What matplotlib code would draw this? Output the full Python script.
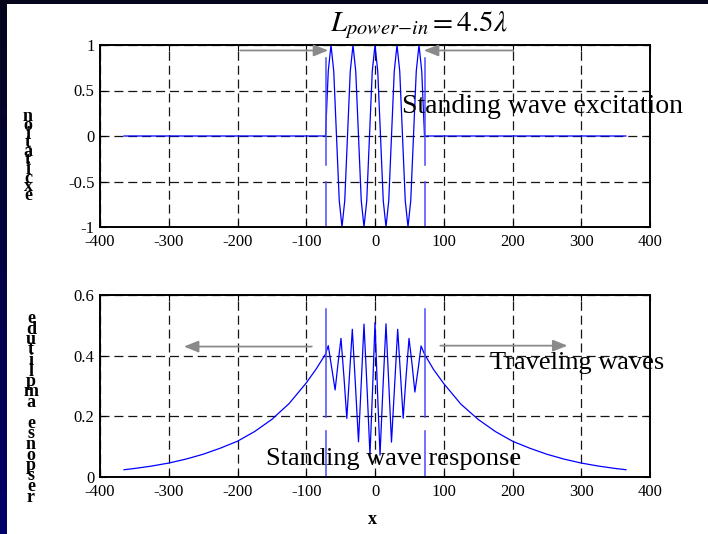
import numpy as np
import matplotlib

matplotlib.use("Agg")
import matplotlib.pyplot as plt
from matplotlib.patches import Rectangle

plt.rcParams["font.family"] = ["Liberation Serif", "DejaVu Serif"]
plt.rcParams["mathtext.fontset"] = "stix"
plt.rcParams["axes.unicode_minus"] = False
plt.rcParams["lines.scale_dashes"] = False

# ---------------------------------------------------------------------------
# data
# ---------------------------------------------------------------------------
x_ticks = [-400, -300, -200, -100, 0, 100, 200, 300, 400]
exc_yticks = [-1, -0.5, 0, 0.5, 1]
exc_yticklabels = ["-1", "-0.5", "0", "0.5", "1"]
resp_yticks = [0, 0.2, 0.4, 0.6]
resp_yticklabels = ["0", "0.2", "0.4", "0.6"]

# standing wave excitation (top panel)
exc_x = [-365, -72, -68, -64, -60, -56, -52, -48, -44, -40, -36, -32, -28,
         -24, -20, -16, -12, -8, -4, 0, 4, 8, 12, 16, 20, 24, 28, 32, 36,
         40, 44, 48, 52, 56, 60, 64, 68, 72, 365]
exc_y = [0, 0, 0.71, 1, 0.71, 0, -0.71, -1, -0.71, 0, 0.71, 1, 0.71,
         0, -0.71, -1, -0.71, 0, 0.71, 1, 0.71, 0, -0.71, -1, -0.71, 0, 0.71, 1, 0.71,
         0, -0.71, -1, -0.71, 0, 0.71, 1, 0.71, 0, 0]

# response amplitude (bottom panel)
resp_x = [-365, -350, -325, -300, -275, -250, -225, -200, -175, -150, -125,
          -100, -85, -72, -68, -63, -58, -54, -49.5, -45, -41, -37, -33,
          -28.5, -24, -20, -16, -11.5, -7.3, -3.5, 0,
          3.5, 7.3, 11.5, 16, 20, 24, 28.5, 33, 37, 41, 45, 49.5, 54, 58,
          63, 67, 72, 85, 100, 125, 150, 175, 200, 225, 250, 275, 300, 325,
          350, 365]
resp_y = [0.024, 0.028, 0.036, 0.046, 0.059, 0.075, 0.095, 0.118, 0.150,
          0.190, 0.242, 0.310, 0.358, 0.405, 0.433, 0.360, 0.287, 0.370,
          0.457, 0.325, 0.193, 0.340, 0.487, 0.305, 0.116, 0.310, 0.504,
          0.290, 0.072, 0.290, 0.509,
          0.290, 0.072, 0.290, 0.505, 0.310, 0.115, 0.300, 0.487, 0.340,
          0.194, 0.325, 0.457, 0.370, 0.280, 0.360, 0.432, 0.405, 0.355,
          0.308, 0.240, 0.190, 0.150, 0.118, 0.095, 0.075, 0.059, 0.046,
          0.036, 0.028, 0.024]

# edges of the powered region, drawn as broken vertical lines
bound_x = [-72, 72]
exc_bound_segs = [(-1, -0.505), (-0.32, 0.857)]
resp_bound_segs = [(0, 0.152), (0.199, 0.553)]

# gray arrows: (x_tail, x_head, y)
exc_arrows = [(-196, -68, 0.94), (201, 71, 0.94)]
resp_arrows = [(-92, -278, 0.43), (95, 280, 0.433)]

exc_label = "excitation"
resp_label = "response amplitude"

BLUE = "#0000ff"
EDGE_BLUE = "#4a4aff"
ARROW_GRAY = "#8a8a8a"

W, H = 708, 534
fig = plt.figure(figsize=(W / 100, H / 100), dpi=100)

# slide background: navy gradient with white figure area
bg = fig.add_axes([0, 0, 1, 1])
bg.set_axis_off()
grad = np.linspace(0, 1, 256)[:, None]
top_c = np.array([0.02, 0.02, 0.11])
bot_c = np.array([0.0, 0.0, 0.42])
img = top_c + (bot_c - top_c) * grad[..., None]
bg.imshow(img, aspect="auto", extent=[0, 1, 0, 1], origin="upper")
bg.add_patch(Rectangle((7 / W, 0), 1, 1 - 4 / H, color="white", lw=0))
bg.set_xlim(0, 1)
bg.set_ylim(0, 1)


def style_axes(ax, yticks, yticklabels, ylim):
    ax.set_xlim(-400, 400)
    ax.set_ylim(*ylim)
    ax.set_xticks(x_ticks)
    ax.set_xticklabels([str(t) for t in x_ticks])
    ax.set_yticks(yticks)
    ax.set_yticklabels(yticklabels)
    ax.grid(True, color="#151515", lw=0.9, linestyle=(0, (6.5, 3.5)))
    ax.set_axisbelow(True)
    for s in ax.spines.values():
        s.set_linewidth(1.4)
        s.set_color("black")
    ax.tick_params(direction="in", length=4, width=0.8, top=True, right=True,
                   labelsize=12, pad=5)
    ax.tick_params(axis="y", pad=4)


def draw_arrows(ax, arrows):
    for xt, xh, y in arrows:
        ax.annotate("", xy=(xh, y), xytext=(xt, y),
                    arrowprops=dict(arrowstyle="-|>,head_length=0.55,head_width=0.22",
                                    color=ARROW_GRAY, lw=1.3, mutation_scale=16,
                                    shrinkA=0, shrinkB=0))


def stacked_label(label, x_px, y0_px, step_px):
    # letters piled bottom-up, one above the other, as on the original slide
    for i, ch in enumerate(label[::-1]):
        fig.text(x_px / W, 1 - (y0_px + i * step_px) / H, ch, fontsize=13,
                 fontweight="bold", ha="center", va="center")


# ---- top panel ----
ax1 = fig.add_axes([100 / W, 1 - 227 / H, 550 / W, 182 / H])
style_axes(ax1, exc_yticks, exc_yticklabels, (-1, 1))
ax1.plot(exc_x, exc_y, color=BLUE, lw=0.9)
for bx in bound_x:
    for y0, y1 in exc_bound_segs:
        ax1.plot([bx, bx], [y0, y1], color=EDGE_BLUE, lw=1.1)
draw_arrows(ax1, exc_arrows)
ax1.text(39, 0.249, "Standing wave excitation", fontsize=20, ha="left",
         va="baseline", clip_on=False)

# ---- bottom panel ----
ax2 = fig.add_axes([100 / W, 1 - 477 / H, 550 / W, 182 / H])
style_axes(ax2, resp_yticks, resp_yticklabels, (0, 0.6))
ax2.plot(resp_x, resp_y, color=BLUE, lw=0.9)
for bx in bound_x:
    for y0, y1 in resp_bound_segs:
        ax2.plot([bx, bx], [y0, y1], color=EDGE_BLUE, lw=1.1)
draw_arrows(ax2, resp_arrows)
ax2.text(167, 0.355, "Traveling waves", fontsize=19, ha="left",
         va="baseline", clip_on=False)
ax2.text(-159, 0.04, "Standing wave response", fontsize=19, ha="left",
         va="baseline", clip_on=False)

# x label
fig.text(372 / W, 1 - 519 / H, "x", fontsize=13, fontweight="bold",
         ha="center", va="center")

# title above the top panel
fig.text(330 / W, 1 - 31 / H, r"$L_{power{-}in} = 4.5\lambda$", fontsize=21,
         ha="left", va="baseline")

stacked_label(exc_label, 28, 116.5, 8.8)
stacked_label(resp_label, 31, 318.5, 10.5)

fig.savefig("out.png", dpi=100)
